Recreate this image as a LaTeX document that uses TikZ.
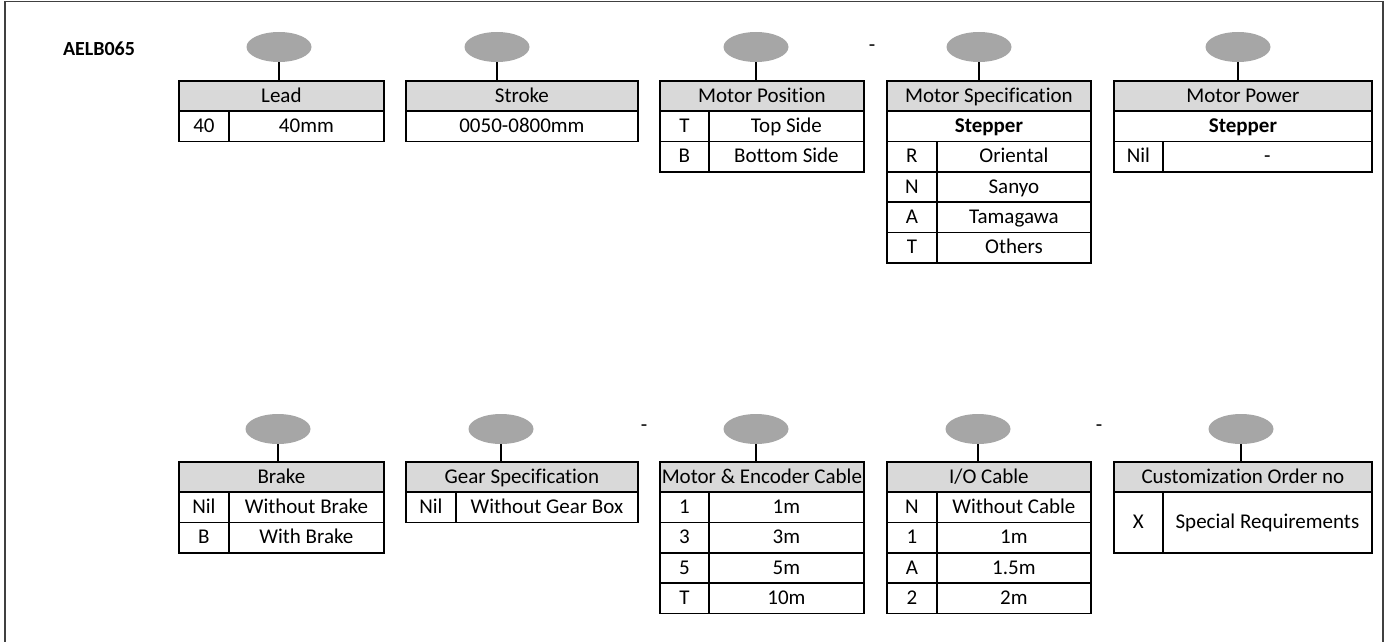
\documentclass[tikz,border=0pt]{standalone}
\usepackage{fontspec}
\setmainfont{Carlito}[Ligatures={NoCommon,NoContextual}]
\usetikzlibrary{shapes.geometric}

\begin{document}
\begin{tikzpicture}[x=1pt,y=-1pt,
    every node/.style={font=\fontsize{21}{25}\selectfont},
    bolha/.style={ellipse,fill=black!35,minimum width=65pt,minimum height=30pt,inner sep=0pt},
    cab/.style={draw,line width=1.8pt,fill=black!15,minimum height=30.3pt,inner sep=0pt,
        text height=15pt,text depth=2.5pt,anchor=north west},
    cel/.style={draw,line width=1.8pt,minimum height=30.3pt,inner sep=0pt,
        text height=15pt,text depth=2.5pt,anchor=north west},
    haste/.style={line width=1.8pt}]

\useasboundingbox (0,0) rectangle (1389,642);

% moldura
\draw[line width=1.8pt,black!75] (5,642) -- (5,1.5) -- (1383,1.5) -- (1383,642);

% codigo do modelo
\node[font=\fontsize{20}{24}\selectfont\bfseries] (cod) at (99,49) {AELB065};

% ---------------- linha de cima ----------------

% Lead
\node[bolha] (b-lead) at (279,47) {};
\node[cab,minimum width=205pt] (lead) at (178,80) {Lead};
\node[cel,minimum width=50pt] (lead-a1) at (178,110.3) {40};
\node[cel,minimum width=155pt] (lead-b1) at (228,110.3) {40mm};
\draw[haste] (b-lead.south) -- (b-lead.south |- lead.north);

% Stroke
\node[bolha] (b-stroke) at (497,47) {};
\node[cab,minimum width=232pt] (stroke) at (405,80) {Stroke};
\node[cel,minimum width=232pt] (stroke-b1) at (405,110.3) {0050-0800mm};
\draw[haste] (b-stroke.south) -- (b-stroke.south |- stroke.north);

% Motor Position
\node[bolha] (b-pos) at (756,47) {};
\node[cab,minimum width=204pt] (pos) at (659,80) {Motor Position};
\foreach \a/\b [count=\i] in {T/Top Side,B/Bottom Side}
{
    \node[cel,minimum width=49pt] (pos-a\i) at (659,{80+30.3*\i}) {\a};
    \node[cel,minimum width=155pt] (pos-b\i) at (708,{80+30.3*\i}) {\b};
}
\draw[haste] (b-pos.south) -- (b-pos.south |- pos.north);

\node (tr1) at (872,48) {-};

% Motor Specification
\node[bolha] (b-spec) at (979,47) {};
\node[cab,minimum width=204pt] (spec) at (886,80) {Motor Specification};
\node[cel,minimum width=204pt,font=\fontsize{21}{25}\selectfont\bfseries] (spec-st) at (886,110.3) {Stepper};
\foreach \a/\b [count=\i] in {R/Oriental,N/Sanyo,A/Tamagawa,T/Others}
{
    \node[cel,minimum width=50pt] (spec-a\i) at (886,{110.3+30.3*\i}) {\a};
    \node[cel,minimum width=154pt] (spec-b\i) at (936,{110.3+30.3*\i}) {\b};
}
\draw[haste] (b-spec.south) -- (b-spec.south |- spec.north);

% Motor Power
\node[bolha] (b-pow) at (1238,47) {};
\node[cab,minimum width=258pt] (pow) at (1113,80) {Motor Power};
\node[cel,minimum width=258pt,font=\fontsize{21}{25}\selectfont\bfseries] (pow-st) at (1113,110.3) {Stepper};
\node[cel,minimum width=49pt] (pow-a1) at (1113,140.6) {Nil};
\node[cel,minimum width=209pt] (pow-b1) at (1162,140.6) {-};
\draw[haste] (b-pow.south) -- (b-pow.south |- pow.north);

% ---------------- linha de baixo ----------------

% Brake
\node[bolha] (b-brake) at (278,429) {};
\node[cab,minimum width=205pt] (brake) at (178,461) {Brake};
\foreach \a/\b [count=\i] in {Nil/Without Brake,B/With Brake}
{
    \node[cel,minimum width=50pt] (brake-a\i) at (178,{461+30.3*\i}) {\a};
    \node[cel,minimum width=155pt] (brake-b\i) at (228,{461+30.3*\i}) {\b};
}
\draw[haste] (b-brake.south) -- (b-brake.south |- brake.north);

% Gear Specification
\node[bolha] (b-gear) at (501,429) {};
\node[cab,minimum width=232pt] (gear) at (405,461) {Gear Specification};
\node[cel,minimum width=50pt] (gear-a1) at (405,491.3) {Nil};
\node[cel,minimum width=182pt] (gear-b1) at (455,491.3) {Without Gear Box};
\draw[haste] (b-gear.south) -- (b-gear.south |- gear.north);

\node (tr2) at (644,428) {-};

% Motor & Encoder Cable
\node[bolha] (b-mec) at (756,429) {};
\node[cab,minimum width=204pt] (mec) at (659,461) {Motor \& Encoder Cable};
\foreach \a/\b [count=\i] in {1/1m,3/3m,5/5m,T/10m}
{
    \node[cel,minimum width=49pt] (mec-a\i) at (659,{461+30.3*\i}) {\a};
    \node[cel,minimum width=155pt] (mec-b\i) at (708,{461+30.3*\i}) {\b};
}
\draw[haste] (b-mec.south) -- (b-mec.south |- mec.north);

% I/O Cable
\node[bolha] (b-io) at (978,429) {};
\node[cab,minimum width=204pt] (io) at (886,461) {I/O Cable};
\foreach \a/\b [count=\i] in {N/Without Cable,1/1m,A/1.5m,2/2m}
{
    \node[cel,minimum width=50pt] (io-a\i) at (886,{461+30.3*\i}) {\a};
    \node[cel,minimum width=154pt] (io-b\i) at (936,{461+30.3*\i}) {\b};
}
\draw[haste] (b-io.south) -- (b-io.south |- io.north);

\node (tr3) at (1099,428) {-};

% Customization Order no
\node[bolha] (b-cust) at (1241,429) {};
\node[cab,minimum width=258pt] (cust) at (1113,461) {Customization Order no};
\node[cel,minimum width=49pt,minimum height=60.6pt] (cust-a1) at (1113,491.3) {X};
\node[cel,minimum width=209pt,minimum height=60.6pt] (cust-b1) at (1162,491.3) {Special Requirements};
\draw[haste] (b-cust.south) -- (b-cust.south |- cust.north);

\end{tikzpicture}
\end{document}
